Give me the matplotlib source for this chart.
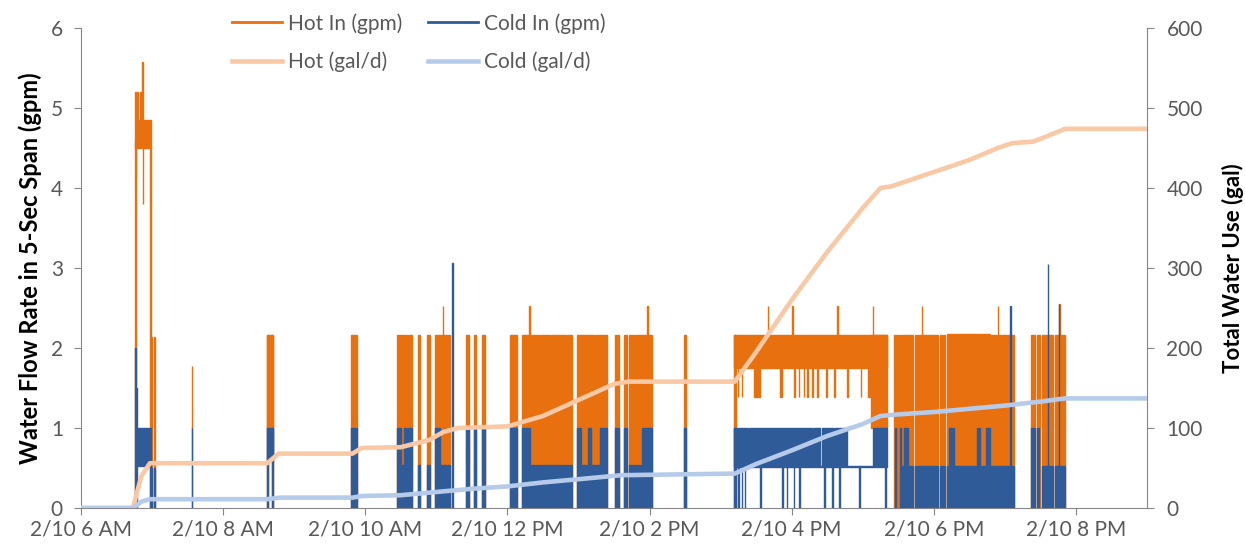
import numpy as np
import matplotlib.pyplot as plt

plt.rcParams['font.family'] = ['Lato', 'DejaVu Sans']

# hours of day (6.0 = 2/10 6 AM)
tick_hours = [6, 8, 10, 12, 14, 16, 18, 20]
tick_labels = ['2/10 6 AM', '2/10 8 AM', '2/10 10 AM', '2/10 12 PM',
               '2/10 2 PM', '2/10 4 PM', '2/10 6 PM', '2/10 8 PM']

# flow traces read as blocks: (start h, end h, low gpm, high gpm)
hot_blocks = [
    (6.755, 6.77, 0, 4.6), (6.76, 6.975, 4.5, 4.85), (6.765, 6.772, 4.85, 5.2),
    (6.795, 6.802, 4.85, 5.2), (6.835, 6.842, 4.85, 5.2), (6.862, 6.868, 4.85, 5.57),
    (6.77, 6.776, 4.14, 4.5), (6.872, 6.878, 3.8, 4.5), (6.97, 6.978, 0, 4.85),
    (6.99, 6.997, 0, 2.14), (7.033, 7.04, 0, 2.14),
    (7.56, 7.566, 0, 1.78),
    (8.62, 8.63, 0, 2.16), (8.62, 8.70, 1.0, 2.16), (8.69, 8.70, 0, 2.16),
    (9.80, 9.89, 0, 2.16),
    (10.446, 10.56, 0, 2.16), (10.572, 10.587, 0, 2.16), (10.606, 10.658, 0, 2.16),
    (10.746, 10.775, 0, 2.16), (10.869, 10.915, 0, 2.16), (10.986, 11.197, 0, 2.16),
    (11.09, 11.096, 0, 2.52),
    (11.42, 11.455, 0, 2.16), (11.525, 11.559, 0, 2.16), (11.644, 11.69, 0, 2.16),
    (12.042, 12.136, 0, 2.16), (12.207, 12.32, 0, 2.16), (12.31, 12.316, 0, 2.52),
    (12.335, 12.45, 0, 2.16), (12.465, 12.60, 0, 2.16), (12.60, 12.62, 0, 1.77),
    (12.62, 12.82, 0, 2.16), (12.835, 12.911, 0, 2.16),
    (12.98, 13.22, 0, 2.16), (13.235, 13.403, 0, 2.16), (13.52, 13.566, 0, 2.16),
    (13.637, 13.685, 0, 2.16), (13.708, 13.78, 0, 2.16), (13.795, 14.038, 0, 2.16),
    (13.97, 13.976, 0, 2.52), (14.483, 14.507, 0, 2.16),
    (15.19, 17.34, 1.75, 2.16), (15.19, 15.215, 0, 2.16), (17.12, 17.34, 1.0, 2.16),
    (15.24, 15.248, 1.39, 1.75), (15.30, 15.308, 1.39, 1.75), (15.47, 15.56, 1.39, 1.75),
    (15.83, 15.87, 1.39, 1.75), (16.03, 16.04, 1.39, 1.75), (16.10, 16.11, 1.39, 1.75),
    (16.17, 16.18, 1.39, 1.75), (16.22, 16.23, 1.39, 1.75), (16.29, 16.30, 1.39, 1.75),
    (16.36, 16.37, 1.39, 1.75), (16.49, 16.50, 1.39, 1.75), (16.60, 16.61, 1.39, 1.75),
    (16.78, 16.79, 1.39, 1.75), (16.97, 16.98, 1.39, 1.75), (17.07, 17.12, 1.39, 1.75),
    (15.66, 15.666, 2.16, 2.52), (16.01, 16.016, 2.16, 2.52), (16.64, 16.646, 2.16, 2.52),
    (17.14, 17.146, 2.16, 2.52),
    (17.44, 17.48, 0, 2.16), (17.50, 17.53, 0, 2.16), (17.545, 17.71, 0, 2.16),
    (17.73, 17.76, 0, 2.16), (17.78, 18.06, 0, 2.16), (18.085, 18.11, 0, 2.16),
    (18.13, 18.16, 0, 2.16), (18.18, 18.65, 0, 2.18), (18.67, 18.79, 0, 2.18),
    (18.81, 18.93, 0, 2.16), (18.95, 19.13, 0, 2.16),
    (17.83, 17.836, 0, 2.52), (18.90, 18.906, 0, 2.52),
    (19.37, 19.43, 0, 2.16), (19.45, 19.50, 0, 2.16), (19.52, 19.68, 0, 2.16),
    (19.70, 19.84, 0, 2.16), (19.765, 19.771, 0, 2.55),
]

cold_blocks = [
    (6.755, 6.775, 0, 2.0), (6.77, 6.79, 0, 1.5), (6.79, 6.975, 0.53, 1.0),
    (6.97, 6.978, 0, 1.0), (6.99, 6.997, 0, 0.5), (7.033, 7.04, 0, 0.5),
    (7.555, 7.562, 0, 1.0),
    (8.62, 8.63, 0, 1.0), (8.62, 8.70, 0.6, 1.0), (8.69, 8.70, 0, 1.0),
    (9.80, 9.835, 0, 1.0), (9.85, 9.89, 0, 1.0),
    (10.446, 10.50, 0, 1.0), (10.50, 10.54, 0, 0.54), (10.54, 10.56, 0, 1.0),
    (10.572, 10.587, 0, 1.0), (10.606, 10.658, 0, 1.0), (10.746, 10.775, 0, 0.54),
    (10.869, 10.915, 0, 0.54), (10.986, 11.05, 0, 1.0), (11.05, 11.197, 0, 0.54),
    (11.225, 11.231, 0, 3.06),
    (11.42, 11.455, 0, 1.0), (11.525, 11.559, 0, 1.0), (11.644, 11.69, 0, 1.0),
    (12.042, 12.136, 0, 1.0), (12.207, 12.32, 0, 1.0), (12.335, 12.45, 0, 0.54),
    (12.465, 12.78, 0, 0.54), (12.80, 12.911, 0, 0.54),
    (12.98, 13.03, 0, 1.0), (13.03, 13.14, 0, 0.54), (13.14, 13.18, 0, 1.0),
    (13.18, 13.22, 0, 0.54), (13.235, 13.31, 0, 0.54), (13.31, 13.403, 0, 1.0),
    (13.52, 13.566, 0, 1.0), (13.637, 13.685, 0, 1.0), (13.708, 13.78, 0, 0.54),
    (13.795, 13.88, 0, 0.54), (13.90, 14.038, 0, 1.0),
    (14.483, 14.507, 0, 1.0),
    (15.19, 15.38, 0.52, 1.0), (15.40, 16.28, 0.52, 1.0), (16.30, 16.40, 0.52, 1.0),
    (16.42, 16.58, 0.52, 1.0), (16.60, 16.78, 0.52, 1.0), (17.14, 17.34, 0.52, 1.0),
    (15.19, 17.34, 0.51, 0.53), (15.19, 15.215, 0, 1.0),
    (15.25, 15.256, 0, 0.52), (15.30, 15.306, 0, 0.52), (15.34, 15.346, 0, 0.52),
    (15.56, 15.566, 0, 0.52), (15.87, 15.876, 0, 0.52), (15.93, 15.936, 0, 0.52),
    (16.03, 16.036, 0, 0.52), (16.11, 16.116, 0, 0.52), (16.46, 16.466, 0, 0.52),
    (16.57, 16.576, 0, 0.52), (16.67, 16.676, 0, 0.52), (16.95, 16.956, 0, 0.52),
    (17.32, 17.33, 0, 1.0),
    (17.46, 17.467, 0, 1.0), (17.53, 17.537, 0, 1.0), (17.545, 17.58, 0, 0.53),
    (17.58, 17.63, 0, 1.0), (17.63, 17.71, 0, 0.53), (17.73, 17.76, 0, 0.53),
    (17.78, 18.06, 0, 0.53), (18.085, 18.11, 0, 0.53), (18.13, 18.16, 0, 0.53),
    (18.18, 18.22, 0, 0.53), (18.22, 18.29, 0, 1.0), (18.29, 18.61, 0, 0.53),
    (18.61, 18.65, 0, 1.0), (18.67, 18.73, 0, 0.53), (18.73, 18.79, 0, 1.0),
    (18.81, 18.93, 0, 0.53), (18.95, 19.13, 0, 0.53), (19.075, 19.082, 0, 2.52),
    (19.37, 19.43, 0, 1.0), (19.45, 19.48, 0, 1.0), (19.52, 19.68, 0, 0.53),
    (19.70, 19.84, 0, 0.53), (19.60, 19.606, 0, 3.05), (19.758, 19.764, 0, 2.55),
]

# cumulative totals (gal)
hot_cum_t = [6.0, 6.73, 6.85, 6.97, 8.62, 8.78, 9.82, 9.95, 10.5, 10.9, 11.1, 11.3,
             12.0, 12.5, 13.0, 13.5, 13.7, 15.2, 15.5, 16.0, 16.5, 17.0, 17.25,
             17.4, 18.0, 18.5, 18.9, 19.1, 19.4, 19.6, 19.85, 21.0]
hot_cum = [0, 0, 40, 56, 56, 68, 68, 75, 76, 85, 95, 100,
           102, 115, 135, 155, 158, 158, 195, 260, 320, 375, 400,
           402, 420, 435, 450, 456, 458, 465, 474, 474]
cold_cum_t = [6.0, 6.73, 6.85, 6.97, 8.62, 8.8, 9.82, 9.95, 10.5, 11.0, 11.5, 12.0,
              12.5, 13.0, 13.6, 15.2, 15.5, 16.0, 16.5, 17.0, 17.25, 17.5, 18.0,
              18.5, 19.0, 19.5, 19.85, 21.0]
cold_cum = [0, 0, 8, 11, 11, 13, 13, 15, 16, 20, 24, 27,
            32, 36, 41, 43, 55, 72, 90, 105, 115, 117, 120,
            124, 128, 133, 137, 137]

hot_c = '#E8700E'
cold_c = '#2F5B98'
hot_cum_c = '#F9C9A5'
cold_cum_c = '#B5CBE9'
grey = '#595959'

fig = plt.figure(figsize=(12.45, 5.5), dpi=100)
ax = fig.add_axes([81 / 1245, 1 - 508 / 550, (1147 - 81) / 1245, 480 / 550])


def draw_blocks(blocks, color, label):
    b = np.array(blocks, dtype=float)
    ax.bar(b[:, 0], b[:, 3] - b[:, 2], width=b[:, 1] - b[:, 0], bottom=b[:, 2],
           align='edge', color=color, edgecolor=color, linewidth=1.0)
    return ax.plot([], [], color=color, lw=2, label=label)[0]


h1 = draw_blocks(hot_blocks, hot_c, 'Hot In (gpm)')
h3 = draw_blocks(cold_blocks, cold_c, 'Cold In (gpm)')

ax.set_xlim(6, 21)
ax.set_ylim(0, 6)
ax.set_yticks(range(7))
ax.set_xticks(tick_hours)
ax.set_xticklabels(tick_labels)
ax.set_ylabel('Water Flow Rate in 5-Sec Span (gpm)', fontsize=17, fontweight='bold',
              labelpad=6)

ax2 = ax.twinx()
h2, = ax2.plot(hot_cum_t, hot_cum, color=hot_cum_c, lw=3.3, label='Hot (gal/d)')
h4, = ax2.plot(cold_cum_t, cold_cum, color=cold_cum_c, lw=3.3, label='Cold (gal/d)')
ax2.set_ylim(0, 600)
ax2.set_yticks(range(0, 601, 100))
ax2.set_ylabel('Total Water Use (gal)', fontsize=16, fontweight='bold', labelpad=14)

for a in (ax, ax2):
    a.spines['top'].set_visible(False)
    for s in ('left', 'right', 'bottom'):
        a.spines[s].set_color('#868686')
    a.tick_params(colors='#868686', labelcolor=grey, labelsize=15, length=5)
ax.tick_params(axis='y', pad=8)
ax2.tick_params(axis='y', pad=9)
ax.spines['right'].set_visible(False)
ax2.spines['left'].set_visible(False)
ax2.spines['bottom'].set_visible(False)

fig.legend(handles=[h1, h2, h3, h4], ncol=2, loc='upper left',
           bbox_to_anchor=(232 / 1245, 1 - 13 / 550), frameon=False, fontsize=15,
           labelcolor=grey, handlelength=2.4, handletextpad=0.3, borderpad=0,
           borderaxespad=0, columnspacing=1.2, labelspacing=0.85)

fig.savefig('out.png', dpi=100)
